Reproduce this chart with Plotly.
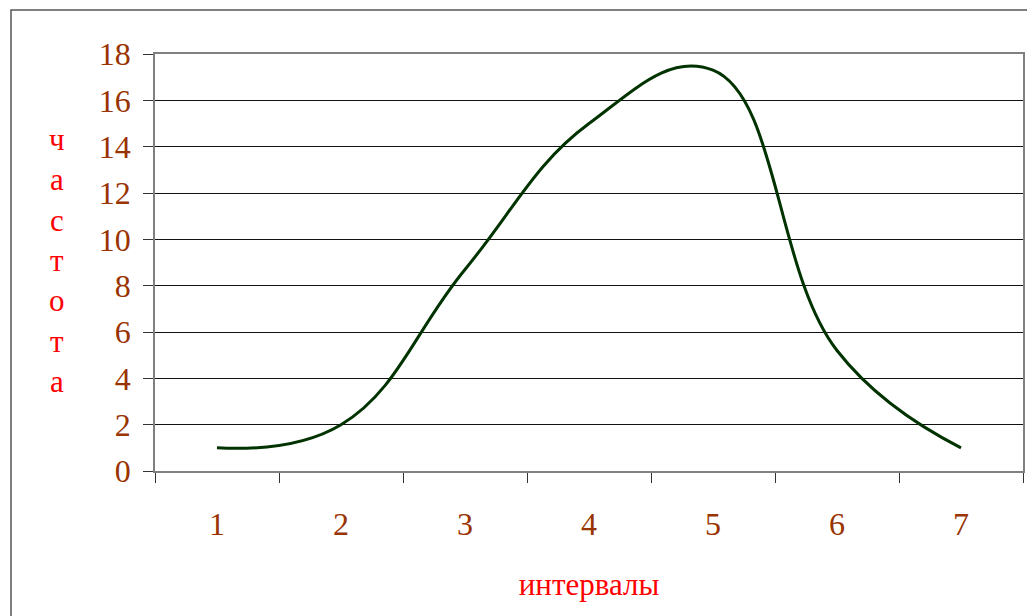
import plotly.graph_objects as go

intervals = ["1", "2", "3", "4", "5", "6", "7"]
frequency = [1.0, 2.0, 8.7, 15.0, 17.3, 5.2, 1.0]
y_ticks = [0, 2, 4, 6, 8, 10, 12, 14, 16, 18]

W, H = 1027, 616
left, right, top, bottom = 155, 4, 54, 145
pw, ph = W - left - right, H - top - bottom

serif = "Liberation Serif, Times New Roman, serif"
brown = "#993300"
red = "#ff0000"

fig = go.Figure()
fig.add_trace(go.Scatter(
    x=intervals, y=frequency, mode="lines",
    line=dict(color="#003300", width=3, shape="spline", smoothing=1.2),
    showlegend=False, hoverinfo="skip",
))

fig.update_layout(
    width=W, height=H,
    margin=dict(l=left, r=right, t=top, b=bottom),
    paper_bgcolor="white", plot_bgcolor="white",
    font=dict(family=serif, size=32, color=brown),
)

fig.update_xaxes(
    type="category", range=[-0.5, 6.5], automargin=False,
    tickson="boundaries", ticks="outside", ticklen=10, tickcolor="#333",
    showgrid=False, showline=True, linecolor="#808080", linewidth=1.5,
    mirror=True, tickfont=dict(size=32, color=brown),
    ticklabelstandoff=24,
    title=dict(text="интервалы", font=dict(size=31, color=red), standoff=32),
)
fig.update_yaxes(
    range=[0, 18], tickvals=y_ticks, automargin=False,
    ticks="outside", ticklen=10, tickcolor="#333",
    showgrid=True, gridcolor="#111", gridwidth=1,
    showline=True, linecolor="#808080", linewidth=1.5, mirror=True,
    zeroline=False, tickfont=dict(size=32, color=brown),
    ticklabelstandoff=6,
)

fig.add_annotation(
    text="<br>".join("частота"), xref="paper", yref="paper",
    x=(57 - left) / pw, y=(H - bottom - 260) / ph,
    showarrow=False, font=dict(family=serif, size=31, color=red),
    xanchor="center", yanchor="middle",
)

# chart area border (runs off the right and bottom edges)
fig.add_shape(
    type="rect", xref="paper", yref="paper",
    x0=(11 - left) / pw, x1=(W + 5 - left) / pw,
    y0=(-20 - bottom) / ph, y1=(H - bottom - 10) / ph,
    line=dict(color="#555", width=1.5), layer="below",
)

# drop the default 8px page margin so the chart sits at the window corner
fig.write_html(
    "out.html",
    config={"displayModeBar": False},
    post_script="document.body.style.margin='0';",
)
